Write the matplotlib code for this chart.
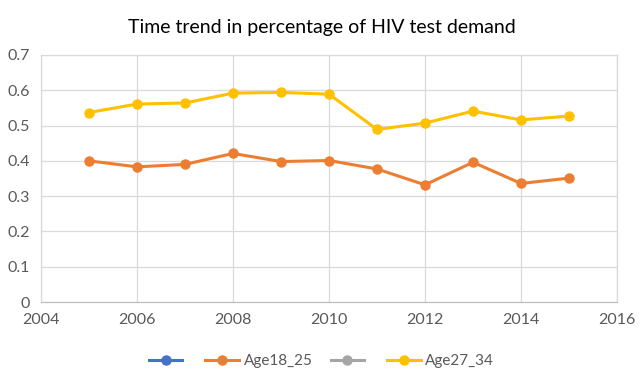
import matplotlib.pyplot as plt
from matplotlib.lines import Line2D

# data
years = [2005, 2006, 2007, 2008, 2009, 2010, 2011, 2012, 2013, 2014, 2015]
age18_25 = [0.400, 0.383, 0.390, 0.421, 0.398, 0.401, 0.377, 0.332, 0.396, 0.336, 0.351]
age27_34 = [0.537, 0.561, 0.564, 0.592, 0.594, 0.589, 0.489, 0.507, 0.541, 0.516, 0.527]
series_names = ["", "Age18_25", "", "Age27_34"]
colors = ["#4472C4", "#ED7D31", "#A5A5A5", "#FFC000"]
x_ticks = list(range(2004, 2017, 2))
y_ticks = [0, 0.1, 0.2, 0.3, 0.4, 0.5, 0.6, 0.7]

plt.rcParams['font.family'] = ['Lato', 'DejaVu Sans']

fig = plt.figure(figsize=(6.43, 3.76), dpi=100)
ax = fig.add_axes([41 / 643, 1 - 302 / 376, 576 / 643, 247 / 376])

# the two empty series only show up in the legend
ax.plot([], [], color=colors[0], marker='o')
ax.plot(years, age18_25, color=colors[1], lw=2.2, marker='o', ms=6.5, zorder=3)
ax.plot([], [], color=colors[2], marker='o')
ax.plot(years, age27_34, color=colors[3], lw=2.2, marker='o', ms=6.5, zorder=3)

ax.set_xlim(2004, 2016)
ax.set_ylim(0, 0.7)
ax.set_xticks(x_ticks)
ax.set_yticks(y_ticks)
ax.set_yticklabels(['0' if v == 0 else f'{v:.1f}' for v in y_ticks])
ax.grid(True, color='#D9D9D9', lw=0.9)
ax.set_axisbelow(True)
for s in ax.spines.values():
    s.set_color('#D9D9D9')
    s.set_linewidth(0.9)
ax.spines['bottom'].set_color('#BFBFBF')
ax.tick_params(length=0, labelsize=11.5, labelcolor='#595959', pad=8)

fig.text(0.5, 1 - 27 / 376, 'Time trend in percentage of HIV test demand',
         ha='center', va='center', fontsize=14, color='black')

handles = [Line2D([], [], color=c, lw=2.2, marker='o', ms=6.5) for c in colors]
fig.legend(handles, series_names, loc='center', bbox_to_anchor=(0.5, 1 - 361 / 376),
           ncol=4, frameon=False, fontsize=11, labelcolor='#595959',
           handlelength=2.2, handletextpad=0.3, columnspacing=1.2)

plt.savefig('out.png', dpi=100)
